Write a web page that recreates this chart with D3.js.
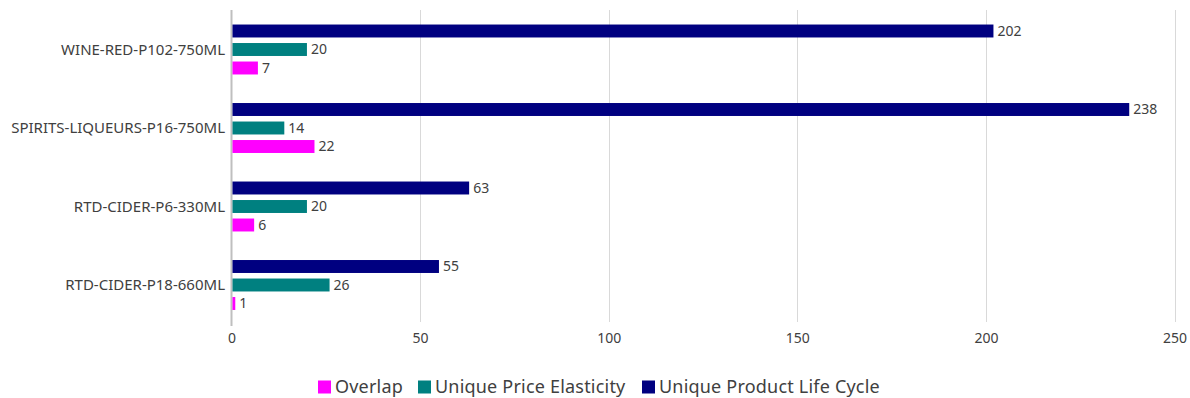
<!DOCTYPE html>
<html>
<head>
<meta charset="utf-8">
<script src="https://cdn.jsdelivr.net/npm/d3@7"></script>
<style>
  html, body { margin: 0; padding: 0; background: #fff; }
  svg { display: block; }
  text { font-family: "Noto Sans", "Open Sans", sans-serif; }
</style>
</head>
<body>
<svg id="chart" width="1190" height="398"></svg>
<script>
// Categories, top to bottom
const categories = ["WINE-RED-P102-750ML", "SPIRITS-LIQUEURS-P16-750ML", "RTD-CIDER-P6-330ML", "RTD-CIDER-P18-660ML"];
// Series values per category
const overlap = [7, 22, 6, 1];
const uniquePriceElasticity = [20, 14, 20, 26];
const uniqueProductLifeCycle = [202, 238, 63, 55];
const seriesNames = ["Overlap", "Unique Price Elasticity", "Unique Product Life Cycle"];
const seriesColors = ["#FF00FF", "#008080", "#000080"];
const xTicks = [0, 50, 100, 150, 200, 250];

const seriesData = [overlap, uniquePriceElasticity, uniqueProductLifeCycle];
const rows = categories.map((c, i) => ({
  category: c,
  values: seriesNames.map((s, k) => ({ series: s, value: seriesData[k][i], color: seriesColors[k] }))
}));

const svg = d3.select("#chart");
const plot = { left: 231.5, right: 1174.5, top: 10.25, bottom: 324.25 };

const x = d3.scaleLinear().domain([0, 250]).range([plot.left, plot.right]);
const y0 = d3.scaleBand().domain(categories).range([plot.top, plot.bottom])
  .paddingInner(0.293).paddingOuter(0.1465);
// Within a group the bars run Life Cycle, Price Elasticity, Overlap from top to bottom
const y1 = d3.scaleBand().domain(seriesNames.slice().reverse()).range([0, y0.bandwidth()])
  .paddingInner(0.3).paddingOuter(0.15);

// Vertical gridlines
svg.append("g")
  .selectAll("line")
  .data(xTicks.filter(t => t > 0))
  .join("line")
  .attr("x1", d => Math.round(x(d)) + 0.5)
  .attr("x2", d => Math.round(x(d)) + 0.5)
  .attr("y1", 10)
  .attr("y2", 322)
  .attr("stroke", "#d9d9d9")
  .attr("stroke-width", 1);

// Category axis line at zero
svg.append("line")
  .attr("x1", x(0)).attr("x2", x(0))
  .attr("y1", 10).attr("y2", 326)
  .attr("stroke", "#bfbfbf")
  .attr("stroke-width", 2);

// Bars
const groups = svg.append("g")
  .selectAll("g")
  .data(rows)
  .join("g")
  .attr("transform", d => `translate(0,${y0(d.category)})`);

groups.selectAll("rect")
  .data(d => d.values)
  .join("rect")
  .attr("x", x(0) + 1)
  .attr("y", d => y1(d.series))
  .attr("width", d => x(d.value) - x(0) - 1)
  .attr("height", y1.bandwidth())
  .attr("fill", d => d.color);

// Value labels
groups.selectAll("text.val")
  .data(d => d.values)
  .join("text")
  .attr("class", "val")
  .attr("x", d => x(d.value) + 4)
  .attr("y", d => y1(d.series) + y1.bandwidth() / 2)
  .attr("dy", "0.35em")
  .attr("font-size", 14)
  .attr("fill", "#404040")
  .text(d => d.value);

// Category labels
svg.append("g")
  .selectAll("text")
  .data(categories)
  .join("text")
  .attr("x", 225)
  .attr("y", d => y0(d) + y0.bandwidth() / 2)
  .attr("dy", "0.35em")
  .attr("text-anchor", "end")
  .attr("font-size", 15)
  .attr("fill", "#404040")
  .text(d => d);

// Value axis tick labels
const xAxis = d3.axisBottom(x).tickValues(xTicks).tickSize(0).tickPadding(0);
const axisG = svg.append("g")
  .attr("transform", "translate(0,333)")
  .call(xAxis);
axisG.select(".domain").remove();
axisG.selectAll("text")
  .attr("font-size", 14)
  .attr("fill", "#404040")
  .attr("font-family", "\"Noto Sans\", sans-serif");

// Legend
const legendItems = [
  { name: "Overlap", color: seriesColors[0], x: 318 },
  { name: "Unique Price Elasticity", color: seriesColors[1], x: 418 },
  { name: "Unique Product Life Cycle", color: seriesColors[2], x: 642 }
];
const legend = svg.append("g").selectAll("g").data(legendItems).join("g")
  .attr("transform", d => `translate(${d.x},387)`);
legend.append("rect")
  .attr("x", 0).attr("y", -6.5).attr("width", 13).attr("height", 13)
  .attr("fill", d => d.color);
legend.append("text")
  .attr("x", 17).attr("y", 0).attr("dy", "0.35em")
  .attr("font-size", 18)
  .attr("letter-spacing", 0.2)
  .attr("fill", "#404040")
  .text(d => d.name);
</script>
</body>
</html>
